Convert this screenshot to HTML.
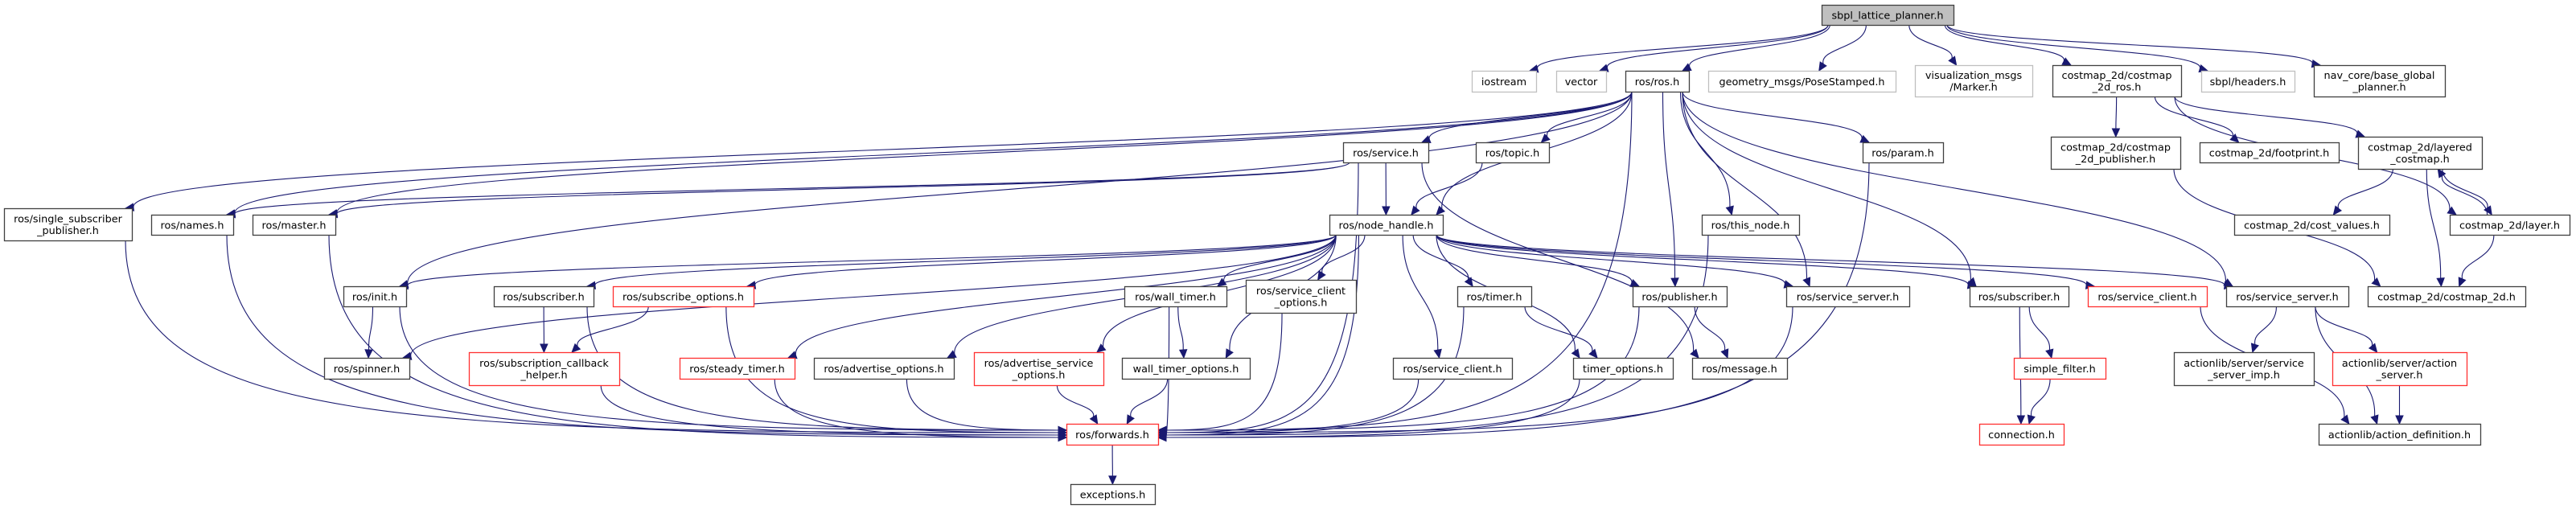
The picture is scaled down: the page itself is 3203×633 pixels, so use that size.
<!DOCTYPE html>
<html><head><meta charset="utf-8">
<style>
html,body{margin:0;padding:0;background:#fff;}
svg{display:block;}
text{font-family:"DejaVu Sans","Liberation Sans",sans-serif;font-size:12.8px;fill:#000;text-anchor:middle;}
</style></head>
<body>
<svg id="g" width="3203" height="633" viewBox="0 0 3203 633" xmlns="http://www.w3.org/2000/svg">
<g id="edges"></g>
<g id="nodes"></g>
</svg>
<script>
var N={
root:[2265,6,164,25,'root',['sbpl_lattice_planner.h']],
iostream:[1830,88,80,26,'g',['iostream']],
vector:[1935,88,62,26,'g',['vector']],
ros:[2021,88,79,26,'b',['ros/ros.h']],
pose:[2124,88,233,26,'g',['geometry_msgs/PoseStamped.h']],
marker:[2381,81,146,39,'g',['visualization_msgs','/Marker.h']],
cmros:[2552,81,160,39,'b',['costmap_2d/costmap','_2d_ros.h']],
headers:[2737,88,116,26,'g',['sbpl/headers.h']],
nav:[2877,81,163,39,'b',['nav_core/base_global','_planner.h']],
service:[1670,177,106,25,'b',['ros/service.h']],
topic:[1835,177,91,25,'b',['ros/topic.h']],
param:[2316,177,100,25,'b',['ros/param.h']],
cmpub:[2550,170,161,40,'b',['costmap_2d/costmap','_2d_publisher.h']],
footprint:[2735,177,173,25,'b',['costmap_2d/footprint.h']],
layered:[2932,170,154,40,'b',['costmap_2d/layered','_costmap.h']],
ssp:[5,259,159,40,'b',['ros/single_subscriber','_publisher.h']],
names:[188,267,102,25,'b',['ros/names.h']],
master:[314,267,103,25,'b',['ros/master.h']],
nh:[1653,267,141,25,'b',['ros/node_handle.h']],
thisnode:[2116,267,121,25,'b',['ros/this_node.h']],
costvalues:[2778,267,193,25,'b',['costmap_2d/cost_values.h']],
layer:[3046,267,149,25,'b',['costmap_2d/layer.h']],
init:[427,356,78,25,'b',['ros/init.h']],
subL:[614,356,124,25,'b',['ros/subscriber.h']],
subopts:[762,356,175,25,'r',['ros/subscribe_options.h']],
walltimer:[1398,356,127,25,'b',['ros/wall_timer.h']],
sco:[1549,348,137,41,'b',['ros/service_client','_options.h']],
timer:[1812,356,92,25,'b',['ros/timer.h']],
pub:[2030,356,117,25,'b',['ros/publisher.h']],
ss1:[2221,356,153,25,'b',['ros/service_server.h']],
subR:[2449,356,123,25,'b',['ros/subscriber.h']],
scR:[2596,356,148,25,'r',['ros/service_client.h']],
ssR:[2768,356,152,25,'b',['ros/service_server.h']],
cm2d:[2944,356,196,25,'b',['costmap_2d/costmap_2d.h']],
spinner:[403,445,106,26,'b',['ros/spinner.h']],
sch:[583,438,187,41,'r',['ros/subscription_callback','_helper.h']],
steady:[845,445,143,26,'r',['ros/steady_timer.h']],
advopts:[1012,445,174,26,'b',['ros/advertise_options.h']],
asopts:[1211,438,161,41,'r',['ros/advertise_service','_options.h']],
wto:[1395,445,159,26,'b',['wall_timer_options.h']],
sc:[1732,445,148,26,'b',['ros/service_client.h']],
topts:[1956,445,124,26,'b',['timer_options.h']],
msg:[2104,445,118,26,'b',['ros/message.h']],
simple:[2504,445,114,26,'r',['simple_filter.h']],
ssimp:[2703,438,174,41,'b',['actionlib/server/service','_server_imp.h']],
as:[2900,438,167,41,'r',['actionlib/server/action','_server.h']],
fwd:[1326,527,114,26,'r',['ros/forwards.h']],
conn:[2461,527,105,26,'r',['connection.h']],
ad:[2883,527,201,26,'b',['actionlib/action_definition.h']],
exc:[1331,602,105,25,'b',['exceptions.h']]
};
var E={
root:['iostream','vector','ros','pose','marker','cmros','headers','nav'],
ros:['ssp','names','master','init','service','topic','nh','thisnode','param','pub','ss1','subR','ssR','fwd'],
service:['names','master','nh','msg','fwd'],
topic:['nh'],
nh:['init','spinner','subL','subopts','steady','advopts','asopts','walltimer','wto','sco','sc','timer','topts','pub','ss1','subR','scR','ssR','fwd'],
init:['spinner','fwd'],ssp:['fwd'],names:['fwd'],master:['fwd'],
subL:['sch','fwd'],subopts:['sch','fwd'],sch:['fwd'],steady:['fwd'],advopts:['fwd'],asopts:['fwd'],
walltimer:['wto','fwd'],wto:['fwd'],sco:['fwd'],sc:['fwd'],timer:['topts','fwd'],topts:['fwd'],
pub:['msg','fwd'],ss1:['fwd'],thisnode:['fwd'],param:['fwd'],fwd:['exc'],
subR:['simple','conn'],simple:['conn'],scR:['ad'],ssR:['ssimp','as','ad'],as:['ad'],
cmros:['cmpub','footprint','layered','layer'],cmpub:['cm2d'],layered:['costvalues','cm2d','layer'],layer:['layered','cm2d']
};
var NS='http://www.w3.org/2000/svg';
function el(t,a,p){var e=document.createElementNS(NS,t);for(var k in a)e.setAttribute(k,a[k]);p.appendChild(e);return e;}
var ng=document.getElementById('nodes'),eg=document.getElementById('edges');
for(var k in N){var n=N[k];var st=n[4];
 var fill=st=='root'?'#bfbfbf':'#fff';
 var stroke=st=='r'?'#ff3030':(st=='g'?'#bfbfbf':'#404040');
 el('rect',{x:n[0]+0.5,y:n[1]+0.5,width:n[2],height:n[3],fill:fill,stroke:stroke,'stroke-width':1.3},ng);
 var cx=n[0]+n[2]/2;
 if(n[5].length==1){var t=el('text',{x:cx,y:n[1]+n[3]/2+5},ng);t.textContent=n[5][0];}
 else{var t1=el('text',{x:cx,y:n[1]+n[3]/2-2.5},ng);t1.textContent=n[5][0];
      var t2=el('text',{x:cx,y:n[1]+n[3]/2+12},ng);t2.textContent=n[5][1];}
}
function cl(v,a,b){return Math.max(a,Math.min(b,v));}
function arrow(x1,y1,x2,y2){var dx=x2-x1,dy=y2-y1,l=Math.sqrt(dx*dx+dy*dy)||1;dx/=l;dy/=l;
 var bx=x2-dx*10,by=y2-dy*10,px=-dy*4.5,py=dx*4.5;
 el('polygon',{points:x2+','+y2+' '+(bx+px)+','+(by+py)+' '+(bx-px)+','+(by-py),fill:'#191970',stroke:'#191970','stroke-width':1},eg);
 return [bx,by];}
var li=0,ri=0;
for(var s in E){E[s].forEach(function(t){
 var a=N[s],b=N[t];var ac=a[0]+a[2]/2,bc=b[0]+b[2]/2;
 var sx,sy,tx,ty,d;
 var side=(t=='fwd' && s!='asopts' && s!='wto');
 if(side){
   sx=cl(ac+(bc-ac)*0.1,a[0]+8,a[0]+a[2]-8);sy=a[1]+a[3];
   var left=ac<bc;tx=left?b[0]:b[0]+b[2];
   ty=b[1]+8+ (left?(li++%4)*3:(ri++%4)*3);
   var hb=arrow(tx+(left?-40:40),ty,tx,ty);
   d='M'+sx+','+sy+' C'+sx+','+(ty-10)+' '+(sx+(tx-sx)*0.3)+','+ty+' '+hb[0]+','+hb[1];
 } else if(b[1]>a[1]+a[3]-2){
   sx=cl(ac+(bc-ac)*0.25,a[0]+8,a[0]+a[2]-8);sy=a[1]+a[3];
   tx=cl(bc+(ac-bc)*0.2,b[0]+8,b[0]+b[2]-8);ty=b[1];
   var m=(ty-sy)/2;
   var hb=arrow(tx+(sx-tx)*0.15,ty-m*0.5,tx,ty);
   d='M'+sx+','+sy+' C'+sx+','+(sy+m)+' '+tx+','+(ty-m)+' '+hb[0]+','+hb[1];
 } else {
   sx=cl(ac+(bc-ac)*0.25,a[0]+8,a[0]+a[2]-8);sy=a[1];
   tx=cl(bc+(ac-bc)*0.2,b[0]+8,b[0]+b[2]-8);ty=b[1]+b[3];
   var m=(ty-sy)/2;
   var hb=arrow(tx+(sx-tx)*0.15,ty-m*0.5,tx,ty);
   d='M'+sx+','+sy+' C'+sx+','+(sy+m)+' '+tx+','+(ty-m)+' '+hb[0]+','+hb[1];
 }
 el('path',{d:d,fill:'none',stroke:'#191970','stroke-width':1.1},eg);
});}
</script>
</body></html>
